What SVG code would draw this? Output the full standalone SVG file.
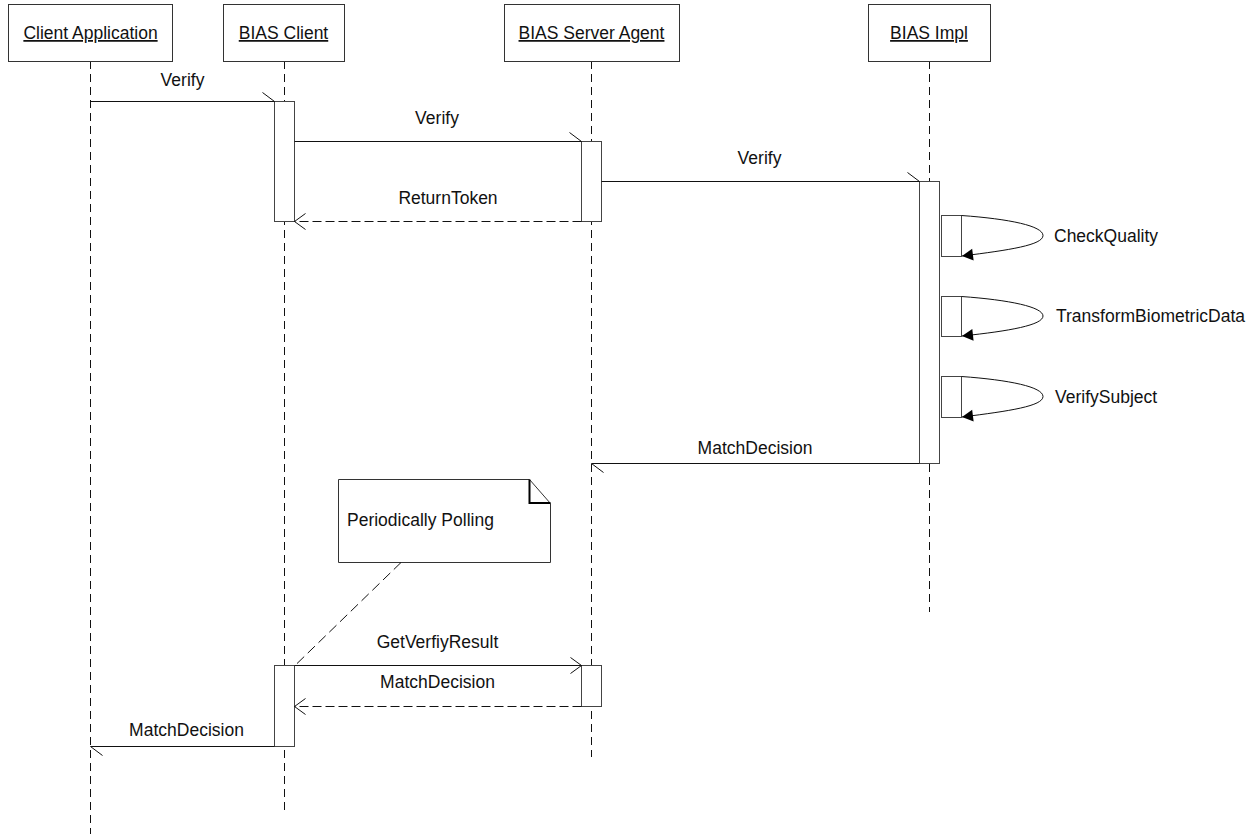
<svg xmlns="http://www.w3.org/2000/svg" width="1259" height="836" viewBox="0 0 1259 836">
<style>
text{font-family:"Liberation Sans",Arial,sans-serif;font-size:17.5px;fill:#111}
.head{fill:#fff;stroke:#333;stroke-width:1}
.title{text-decoration:underline;text-anchor:middle}
.life{stroke:#111;stroke-width:1;stroke-dasharray:8 5;fill:none}
.act{fill:#fff;stroke:#444;stroke-width:1}
.msg{stroke:#111;stroke-width:1;fill:none}
.ret{stroke:#111;stroke-width:1;fill:none;stroke-dasharray:9 4}
.lbl{text-anchor:middle}
.self{stroke:#111;stroke-width:1;fill:none}
</style>
<defs>
<marker id="half" markerUnits="userSpaceOnUse" markerWidth="20" markerHeight="20" viewBox="-14 -10 16 20" refX="0" refY="0" orient="auto" overflow="visible">
<path d="M-12,-9 L0,0" stroke="#111" stroke-width="1" fill="none"/>
</marker>
<marker id="open" markerUnits="userSpaceOnUse" markerWidth="20" markerHeight="20" viewBox="-14 -10 16 20" refX="0" refY="0" orient="auto" overflow="visible">
<path d="M-11,-8 L0,0 L-11,8" stroke="#111" stroke-width="1" fill="none"/>
</marker>
<marker id="filled" markerUnits="userSpaceOnUse" markerWidth="20" markerHeight="20" viewBox="-14 -10 16 20" refX="0" refY="0" orient="auto" overflow="visible">
<path d="M-11,-6 L0,0 L-11,6 Z" fill="#000"/>
</marker>
</defs>
<rect width="1259" height="836" fill="#fff"/>

<g id="lifelines">
<line class="life" x1="90.5" y1="61" x2="90.5" y2="834"/>
<line class="life" x1="284.5" y1="61" x2="284.5" y2="812"/>
<line class="life" x1="591.5" y1="61" x2="591.5" y2="757"/>
<line class="life" x1="929.5" y1="61" x2="929.5" y2="612"/>
</g>

<g id="client-application">
<rect class="head" x="8.5" y="4.5" width="164" height="57"/>
<text class="title" x="90.5" y="39">Client Application</text>
</g>
<g id="bias-client">
<rect class="head" x="223.5" y="4.5" width="121" height="57"/>
<text class="title" x="283.5" y="39">BIAS Client</text>
</g>
<g id="bias-server-agent">
<rect class="head" x="504.5" y="4.5" width="175" height="57"/>
<text class="title" x="591.5" y="39">BIAS Server Agent</text>
</g>
<g id="bias-impl">
<rect class="head" x="868.5" y="4.5" width="122" height="57"/>
<text class="title" x="929" y="39">BIAS Impl</text>
</g>

<g id="activations">
<rect class="act" x="274.5" y="101.5" width="20" height="120"/>
<rect class="act" x="581.5" y="141.5" width="20" height="80"/>
<rect class="act" x="919.5" y="181.5" width="20" height="282"/>
<rect class="act" x="941.5" y="215.5" width="20" height="41"/>
<rect class="act" x="941.5" y="296.5" width="20" height="40"/>
<rect class="act" x="941.5" y="376.5" width="20" height="41"/>
<rect class="act" x="274.5" y="665.5" width="20" height="81"/>
<rect class="act" x="581.5" y="665.5" width="20" height="41"/>
</g>

<g id="note">
<path d="M338.5,479.5 L529.5,479.5 L550.5,503.5 L550.5,562.5 L338.5,562.5 Z" fill="#fff" stroke="#333" stroke-width="1"/>
<path d="M529.5,479.5 L529.5,503 L550.5,503" fill="none" stroke="#000" stroke-width="2"/>
<text x="347" y="526">Periodically Polling</text>
</g>

<g id="connectors">
<line class="msg" x1="90.5" y1="101.5" x2="274.5" y2="101.5" marker-end="url(#half)"/>
<text class="lbl" x="182.5" y="86">Verify</text>
<line class="msg" x1="294.5" y1="141.5" x2="581.5" y2="141.5" marker-end="url(#half)"/>
<text class="lbl" x="437" y="124">Verify</text>
<line class="msg" x1="601.5" y1="181.5" x2="919.5" y2="181.5" marker-end="url(#half)"/>
<text class="lbl" x="759.5" y="164">Verify</text>
<line class="ret" x1="581.5" y1="221.5" x2="294.5" y2="221.5" marker-end="url(#open)"/>
<text class="lbl" x="448" y="204">ReturnToken</text>

<path class="self" d="M961.5,215.5 C1010,219 1043,226 1043,235.5 C1043,245 1010,250 962,256" marker-end="url(#filled)"/>
<text x="1054" y="242">CheckQuality</text>
<path class="self" d="M961.5,296.5 C1010,300 1043,307 1043,316 C1043,325 1010,331 962,336" marker-end="url(#filled)"/>
<text x="1056" y="322">TransformBiometricData</text>
<path class="self" d="M961.5,376.5 C1010,380 1043,387 1043,396.5 C1043,406 1010,411 962,417" marker-end="url(#filled)"/>
<text x="1055" y="403">VerifySubject</text>

<line class="msg" x1="919.5" y1="463.5" x2="591.5" y2="463.5" marker-end="url(#half)"/>
<text class="lbl" x="755" y="454">MatchDecision</text>

<line x1="401" y1="562.5" x2="295" y2="665.5" stroke="#111" stroke-width="1" stroke-dasharray="10 5"/>

<line class="msg" x1="294.5" y1="665.5" x2="581.5" y2="665.5" marker-end="url(#open)"/>
<text class="lbl" x="437.5" y="648">GetVerfiyResult</text>
<line class="ret" x1="581.5" y1="706.5" x2="294.5" y2="706.5" marker-end="url(#open)"/>
<text class="lbl" x="437.5" y="688">MatchDecision</text>
<line class="msg" x1="274.5" y1="746.5" x2="90.5" y2="746.5" marker-end="url(#half)"/>
<text class="lbl" x="186.5" y="736">MatchDecision</text>
</g>
</svg>
